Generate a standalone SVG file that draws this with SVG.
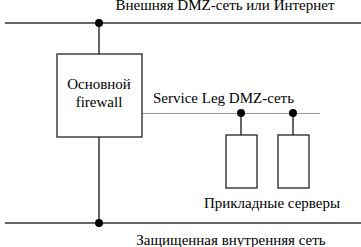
<svg xmlns="http://www.w3.org/2000/svg" width="361" height="247" viewBox="0 0 361 247">
<style>
text{font-family:"Liberation Serif","Times New Roman",serif;font-size:15px;fill:#000}
.ln{stroke:#333;stroke-width:1.5;fill:none}
.lt{stroke:#999;stroke-width:1;fill:none}
.bx{fill:#fff;stroke:#222;stroke-width:1.3}
.dot{fill:#000}
</style>
<rect width="361" height="247" fill="#fff"/>
<g id="connectors">
<line class="ln" x1="5" y1="23" x2="361" y2="23"/>
<line class="ln" x1="5" y1="223" x2="361" y2="223"/>
<line class="ln" x1="99" y1="23" x2="99" y2="54"/>
<line class="ln" x1="99" y1="137" x2="99" y2="223"/>
<line class="lt" x1="142" y1="113.5" x2="320" y2="113.5"/>
<line class="ln" x1="241" y1="113" x2="241" y2="135"/>
<line class="ln" x1="293" y1="113" x2="293" y2="135"/>
<circle class="dot" cx="99" cy="23" r="4"/>
<circle class="dot" cx="99" cy="223" r="4"/>
<circle class="dot" cx="241" cy="113" r="4"/>
<circle class="dot" cx="293" cy="113" r="4"/>
</g>
<g id="external-net">
<text x="225" y="10" text-anchor="middle">Внешняя DMZ-сеть или Интернет</text>
</g>
<g id="firewall">
<rect class="bx" x="57" y="54" width="85" height="83"/>
<text x="99" y="89" text-anchor="middle">Основной</text>
<text x="99" y="106.5" text-anchor="middle">firewall</text>
</g>
<g id="service-leg">
<text x="153" y="102.5">Service Leg DMZ-сеть</text>
</g>
<g id="server1">
<rect class="bx" x="226" y="135" width="31" height="53"/>
</g>
<g id="server2">
<rect class="bx" x="278" y="135" width="31" height="53"/>
</g>
<g id="app-servers">
<text x="272" y="207.5" text-anchor="middle">Прикладные серверы</text>
</g>
<g id="internal-net">
<text x="231" y="245" text-anchor="middle">Защищенная внутренняя сеть</text>
</g>
</svg>
